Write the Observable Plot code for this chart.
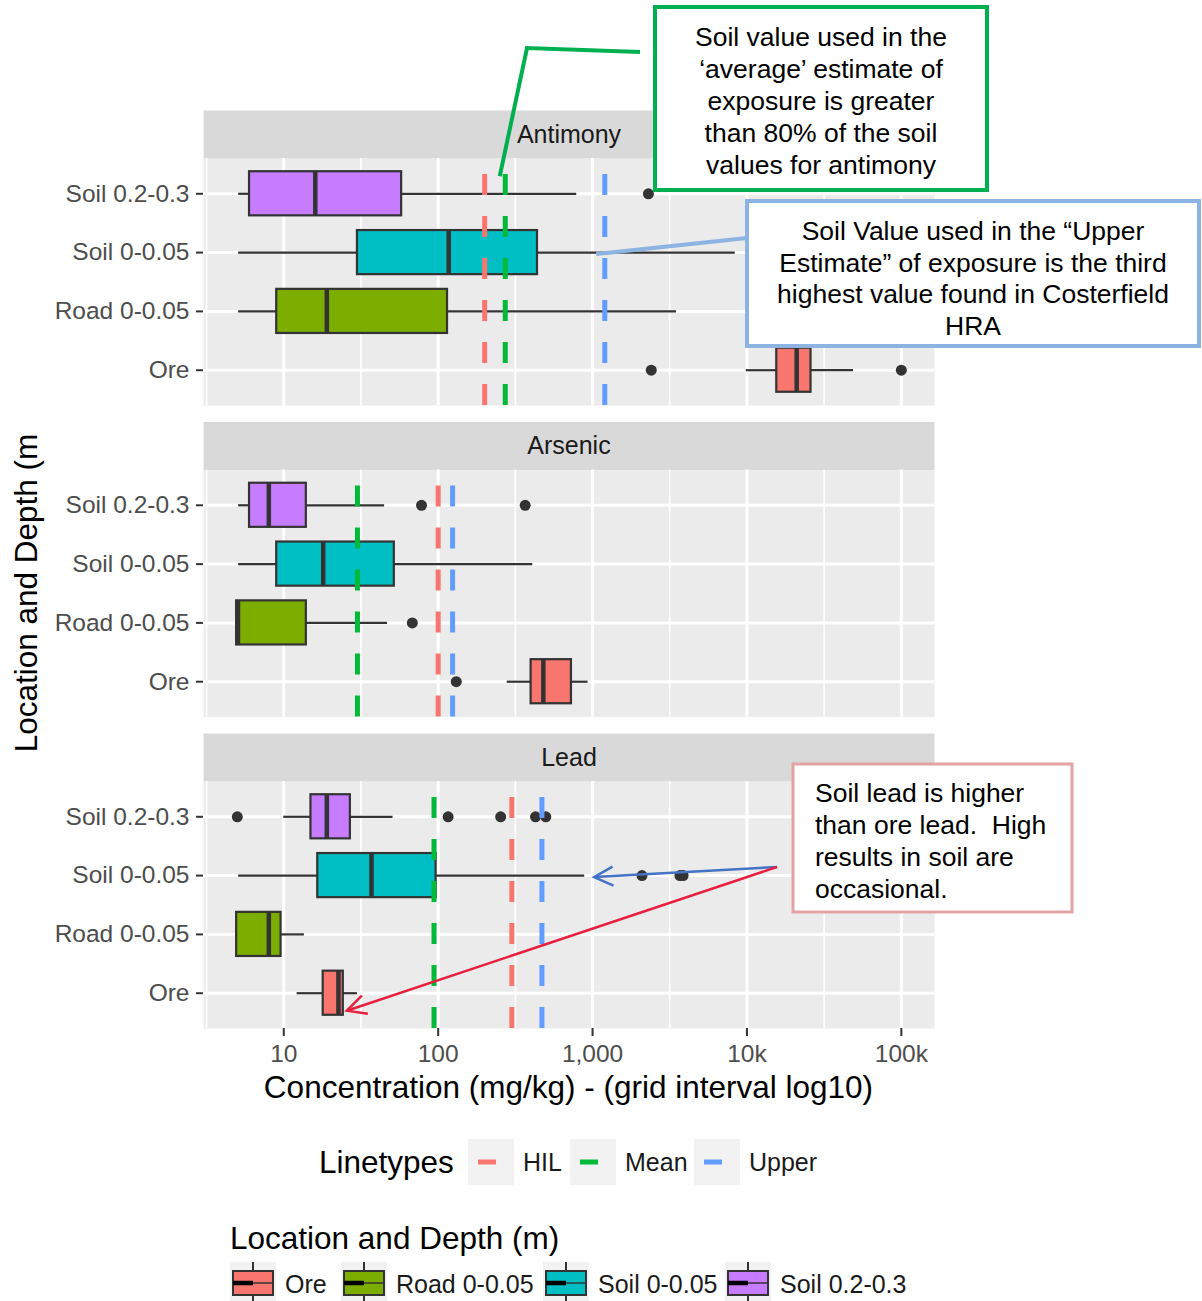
<!DOCTYPE html>
<html>
<head>
<meta charset="utf-8">
<script src="https://cdn.jsdelivr.net/npm/d3@7"></script>
<script src="https://cdn.jsdelivr.net/npm/@observablehq/plot@0.6"></script>
<style>
  html, body { margin: 0; padding: 0; background: #fff; }
  #wrap { position: relative; width: 1202px; height: 1301px; overflow: hidden; background: #fff; }
  #wrap > svg { position: absolute; left: 0; top: 0; }
</style>
</head>
<body>
<div id="wrap"></div>
<script>
// ---------------- data ----------------
const elements = ["Antimony", "Arsenic", "Lead"];
const locations = ["Soil 0.2-0.3", "Soil 0-0.05", "Road 0-0.05", "Ore"];   // top to bottom
const legendOrder = ["Ore", "Road 0-0.05", "Soil 0-0.05", "Soil 0.2-0.3"];
const locationColors = ["#F8766D", "#7CAE00", "#00BFC4", "#C77CFF"];

// box statistics: rows = elements, columns = locations (same order as `locations`)
const boxMin    = [[5.1, 5.1, 5.1, 9900],  [5.1, 5.1, 4.95, 280], [10, 5.1, 4.95, 12.2]];
const boxQ1     = [[6, 30, 9, 15600],      [6, 9, 4.95, 400],     [15, 16.6, 4.95, 18]];
const boxMedian = [[16, 117, 19, 21000],   [8, 18, 5.05, 480],    [19, 37, 8, 22.6]];
const boxQ3     = [[58, 440, 115, 26000],  [14, 52, 14, 730],     [27, 97, 9.6, 24.3]];
const boxMax    = [[790, 8400, 3500, 49000], [45, 410, 47, 935],  [51, 890, 13.6, 30]];
const outliers  = [
  [[2300], [], [], [2400, 100000]],
  [[78, 366], [], [68], [131]],
  [[5, 116, 254, 427, 498], [2090, 3680, 3860], [], []]
];

// reference lines per element (Antimony, Arsenic, Lead)
const lineTypes = ["HIL", "Mean", "Upper"];
const lineColors = ["#F8766D", "#00BA38", "#619CFF"];
const hilValues = [200, 100, 300];
const meanValues = [272, 30, 94];
const upperValues = [1200, 124, 470];

// axis
const xTicks = [10, 100, 1000, 10000, 100000];
const xTickLabels = ["10", "100", "1,000", "10k", "100k"];
const xMinorTicks = [3.162, 31.62, 316.2, 3162, 31623];
const xDomain = [3.02, 164000];

// ---------------- layout ----------------
const FONT = '"Liberation Sans", Arial, Helvetica, sans-serif';
const W = 1202, H = 1110;
const PANEL_H = 247, GAP = 64.5, STRIP_H = 48;
const M_TOP = 158, M_LEFT = 203, M_RIGHT = W - 934;
const M_BOTTOM = H - (M_TOP + 3 * PANEL_H + 2 * GAP);
const DASH = 21;
const dashOffset = ((DASH - (PANEL_H % (2 * DASH))) + 2 * DASH) % (2 * DASH);

// ---------------- tables ----------------
const boxes = [];
elements.forEach((el, i) => locations.forEach((loc, j) => boxes.push({
  el, loc, min: boxMin[i][j], q1: boxQ1[i][j], median: boxMedian[i][j], q3: boxQ3[i][j], max: boxMax[i][j]
})));
const outlierRows = [];
elements.forEach((el, i) => locations.forEach((loc, j) => outliers[i][j].forEach(v => outlierRows.push({el, loc, v}))));
const refSeries = [hilValues, meanValues, upperValues];
const refRows = lineTypes.map((t, k) => elements.map((el, i) => ({el, type: t, v: refSeries[k][i]})));

const plot = Plot.plot({
  width: W, height: H,
  marginTop: M_TOP, marginBottom: M_BOTTOM, marginLeft: M_LEFT, marginRight: M_RIGHT,
  style: {fontFamily: FONT, background: "white", overflow: "visible"},
  x: {type: "log", domain: xDomain},
  y: {domain: locations, paddingInner: 0.25, paddingOuter: 0.225, align: 0.5, round: false},
  fy: {domain: elements, paddingInner: GAP / (PANEL_H + GAP), paddingOuter: 0, axis: null, round: false},
  color: {domain: legendOrder, range: locationColors},
  marks: [
    Plot.frame({fill: "#EBEBEB"}),
    Plot.frame({fill: "#D9D9D9", insetTop: -STRIP_H, insetBottom: PANEL_H}),
    Plot.text(elements, {fy: d => d, text: d => d, frameAnchor: "top", lineAnchor: "middle",
      dy: -STRIP_H / 2, fontSize: 25, fill: "#1A1A1A"}),
    Plot.gridX(xMinorTicks, {stroke: "white", strokeOpacity: 1, strokeWidth: 1.6}),
    Plot.gridX(xTicks, {stroke: "white", strokeOpacity: 1, strokeWidth: 3}),
    Plot.gridY({stroke: "white", strokeOpacity: 1, strokeWidth: 3}),
    Plot.ruleY(boxes, {y: "loc", fy: "el", x1: "min", x2: "q1", stroke: "#333333", strokeWidth: 2.2}),
    Plot.ruleY(boxes, {y: "loc", fy: "el", x1: "q3", x2: "max", stroke: "#333333", strokeWidth: 2.2}),
    Plot.barX(boxes, {y: "loc", fy: "el", x1: "q1", x2: "q3", fill: "loc", stroke: "#333333", strokeWidth: 2.2}),
    Plot.tickX(boxes, {y: "loc", fy: "el", x: "median", stroke: "#333333", strokeWidth: 4.5}),
    Plot.dot(outlierRows, {y: "loc", fy: "el", x: "v", r: 5.5, fill: "#333333", stroke: null}),
    ...lineTypes.map((t, k) => Plot.ruleX(refRows[k], {
      x: "v", fy: "el", stroke: lineColors[k], strokeWidth: 5,
      strokeDasharray: `${DASH},${DASH}`, strokeDashoffset: dashOffset
    })),
    Plot.axisX(xTicks, {tickFormat: d => xTickLabels[xTicks.indexOf(d)], tickSize: 8, tickPadding: 8,
      fontSize: 24.5, fill: "#4D4D4D", stroke: "#333333", strokeWidth: 2, label: null}),
    Plot.axisY({tickSize: 7, tickPadding: 7, fontSize: 24.5, fill: "#4D4D4D", stroke: "#333333", strokeWidth: 2, label: null})
  ]
});
document.getElementById("wrap").appendChild(plot);

// ---------------- overlay: titles, annotations, legends ----------------
const sx = plot.scale("x"), sy = plot.scale("y"), sfy = plot.scale("fy");
const yRange0 = Math.min(...sy.range);
const rowY = (el, loc) => sfy.apply(el) + (sy.apply(loc) - yRange0) + sy.bandwidth / 2;
const panelCenterX = (sx.range[0] + sx.range[1]) / 2;
const panelTop = sfy.apply(elements[0]);
const panelBottom = sfy.apply(elements[2]) + sfy.bandwidth;

const ov = d3.select("#wrap").append("svg")
  .attr("width", 1202).attr("height", 1301)
  .style("font-family", FONT);

// axis titles
ov.append("text").attr("x", panelCenterX).attr("y", 1098).attr("text-anchor", "middle")
  .attr("font-size", 31.5).attr("fill", "#000").text("Concentration (mg/kg) - (grid interval log10)");
ov.append("text").attr("transform", `translate(37,${(panelTop + panelBottom) / 2}) rotate(-90)`)
  .attr("text-anchor", "middle").attr("font-size", 31.5).attr("fill", "#000").text("Location and Depth (m");

function textBlock(lines, x, y0, lh, anchor) {
  const t = ov.append("text").attr("font-size", 26.5).attr("fill", "#000")
    .attr("text-anchor", anchor).style("white-space", "pre");
  lines.forEach((s, i) => t.append("tspan").attr("x", x).attr("y", y0 + i * lh).text(s));
}
function arrow(x1, y1, x2, y2, color, w, L, hw) {
  ov.append("line").attr("x1", x1).attr("y1", y1).attr("x2", x2).attr("y2", y2)
    .attr("stroke", color).attr("stroke-width", w);
  const len = Math.hypot(x1 - x2, y1 - y2), ux = (x1 - x2) / len, uy = (y1 - y2) / len;
  const px = -uy, py = ux;
  ov.append("polyline").attr("fill", "none").attr("stroke", color).attr("stroke-width", w)
    .attr("points", `${x2 + L * ux + hw * px},${y2 + L * uy + hw * py} ${x2},${y2} ${x2 + L * ux - hw * px},${y2 + L * uy - hw * py}`);
}

// green annotation (average estimate)
const meanSbX = sx.apply(meanValues[0]);
const soilTopY = rowY("Antimony", "Soil 0.2-0.3");
ov.append("polyline").attr("fill", "none").attr("stroke", "#00B050").attr("stroke-width", 4)
  .attr("points", `640,52 527,48 ${meanSbX - 5},${soilTopY - 17}`);
ov.append("rect").attr("x", 655).attr("y", 7).attr("width", 332).attr("height", 183)
  .attr("fill", "white").attr("stroke", "#00B050").attr("stroke-width", 4);
textBlock(["Soil value used in the", "\u2018average\u2019 estimate of", "exposure is greater",
  "than 80% of the soil", "values for antimony"], 821, 46, 32, "middle");

// blue annotation (upper estimate)
const upperSbX = sx.apply(upperValues[0]);
ov.append("line").attr("x1", 747).attr("y1", 238).attr("x2", upperSbX - 8).attr("y2", rowY("Antimony", "Soil 0-0.05") + 2)
  .attr("stroke", "#8DB3E2").attr("stroke-width", 4);
ov.append("rect").attr("x", 747).attr("y", 201).attr("width", 452).attr("height", 145)
  .attr("fill", "white").attr("stroke", "#8DB3E2").attr("stroke-width", 4);
textBlock(["Soil Value used in the \u201cUpper", "Estimate\u201d of exposure is the third",
  "highest value found in Costerfield", "HRA"], 973, 240, 31.7, "middle");

// pink annotation (lead)
ov.append("rect").attr("x", 793).attr("y", 764).attr("width", 279).attr("height", 148)
  .attr("fill", "white").attr("stroke", "#E3A3A3").attr("stroke-width", 3);
textBlock(["Soil lead is higher", "than ore lead.  High", "results in soil are", "occasional."], 815, 802, 32, "start");
arrow(777, 867, sx.apply(1000) + 2, rowY("Lead", "Soil 0-0.05") + 2, "#4472C4", 2.5, 19, 9.5);
arrow(777, 867, sx.apply(boxQ3[2][3]) + 4, rowY("Lead", "Ore") + 18, "#E8203F", 2.5, 19, 9.5);

// Linetypes legend
ov.append("text").attr("x", 319).attr("y", 1173).attr("font-size", 31.5).attr("fill", "#000").text("Linetypes");
const ltKeyX = [468, 570, 694];
lineTypes.forEach((t, k) => {
  ov.append("rect").attr("x", ltKeyX[k]).attr("y", 1139).attr("width", 46).attr("height", 46).attr("fill", "#F2F2F2");
  ov.append("line").attr("x1", ltKeyX[k] + 10).attr("x2", ltKeyX[k] + 28).attr("y1", 1162).attr("y2", 1162)
    .attr("stroke", lineColors[k]).attr("stroke-width", 5);
  ov.append("text").attr("x", ltKeyX[k] + 55).attr("y", 1171).attr("font-size", 25).attr("fill", "#1A1A1A").text(t);
});

// Location legend
ov.append("text").attr("x", 230).attr("y", 1249).attr("font-size", 31.5).attr("fill", "#000").text("Location and Depth (m)");
const locKeyX = [230, 341, 543, 725];
const locLabelX = [285, 396, 598, 780];
legendOrder.forEach((loc, k) => {
  const x = locKeyX[k];
  ov.append("rect").attr("x", x).attr("y", 1262).attr("width", 46).attr("height", 46).attr("fill", "#F2F2F2");
  ov.append("line").attr("x1", x + 23).attr("x2", x + 23).attr("y1", 1262).attr("y2", 1310).attr("stroke", "#333").attr("stroke-width", 2);
  ov.append("rect").attr("x", x + 3).attr("y", 1271).attr("width", 40).attr("height", 24)
    .attr("fill", locationColors[k]).attr("stroke", "#333").attr("stroke-width", 2);
  ov.append("line").attr("x1", x + 23).attr("x2", x + 43).attr("y1", 1283).attr("y2", 1283).attr("stroke", "#333").attr("stroke-width", 1.5);
  ov.append("line").attr("x1", x + 3).attr("x2", x + 23).attr("y1", 1283).attr("y2", 1283).attr("stroke", "#000").attr("stroke-width", 4.5);
  ov.append("text").attr("x", locLabelX[k]).attr("y", 1293).attr("font-size", 25).attr("fill", "#1A1A1A").text(loc);
});
</script>
</body>
</html>
